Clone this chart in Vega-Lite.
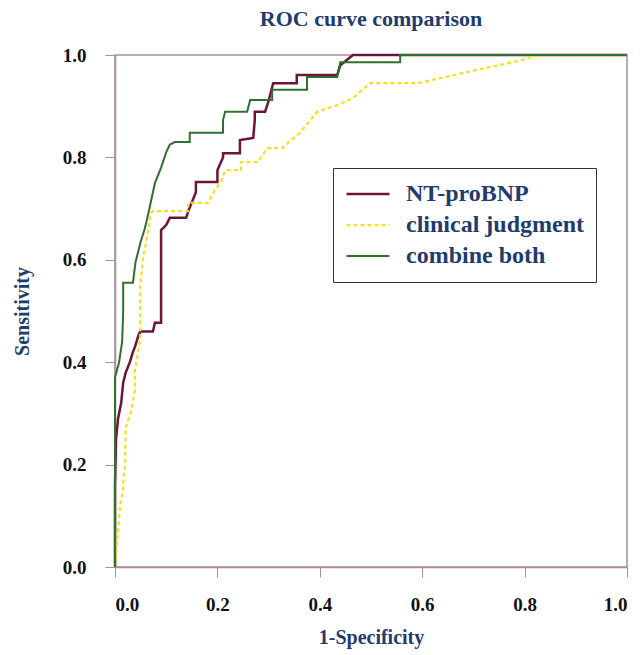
{
 "$schema": "https://vega.github.io/schema/vega-lite/v6.json",
 "width": 512,
 "height": 512,
 "autosize": {"type": "none"},
 "padding": {"left": 115, "top": 55, "right": 13, "bottom": 88},
 "background": "white",
 "title": {"text": "ROC curve comparison", "anchor": "middle", "frame": "group", "offset": 15, "font": "Liberation Serif", "fontSize": 22, "fontWeight": "bold", "color": "#1f3c6e"},
 "data": {"values": [
  {"series": "NT-proBNP", "i": 0, "fpr": 0, "tpr": 0},
  {"series": "NT-proBNP", "i": 1, "fpr": 0, "tpr": 0.16},
  {"series": "NT-proBNP", "i": 2, "fpr": 0.002, "tpr": 0.25},
  {"series": "NT-proBNP", "i": 3, "fpr": 0.006, "tpr": 0.29},
  {"series": "NT-proBNP", "i": 4, "fpr": 0.012, "tpr": 0.32},
  {"series": "NT-proBNP", "i": 5, "fpr": 0.016, "tpr": 0.36},
  {"series": "NT-proBNP", "i": 6, "fpr": 0.021, "tpr": 0.38},
  {"series": "NT-proBNP", "i": 7, "fpr": 0.029, "tpr": 0.40},
  {"series": "NT-proBNP", "i": 8, "fpr": 0.035, "tpr": 0.42},
  {"series": "NT-proBNP", "i": 9, "fpr": 0.039, "tpr": 0.43},
  {"series": "NT-proBNP", "i": 10, "fpr": 0.045, "tpr": 0.45},
  {"series": "NT-proBNP", "i": 11, "fpr": 0.049, "tpr": 0.46},
  {"series": "NT-proBNP", "i": 12, "fpr": 0.074, "tpr": 0.46},
  {"series": "NT-proBNP", "i": 13, "fpr": 0.078, "tpr": 0.477},
  {"series": "NT-proBNP", "i": 14, "fpr": 0.09, "tpr": 0.477},
  {"series": "NT-proBNP", "i": 15, "fpr": 0.09, "tpr": 0.658},
  {"series": "NT-proBNP", "i": 16, "fpr": 0.1, "tpr": 0.668},
  {"series": "NT-proBNP", "i": 17, "fpr": 0.107, "tpr": 0.682},
  {"series": "NT-proBNP", "i": 18, "fpr": 0.139, "tpr": 0.682},
  {"series": "NT-proBNP", "i": 19, "fpr": 0.145, "tpr": 0.70},
  {"series": "NT-proBNP", "i": 20, "fpr": 0.152, "tpr": 0.717},
  {"series": "NT-proBNP", "i": 21, "fpr": 0.158, "tpr": 0.732},
  {"series": "NT-proBNP", "i": 22, "fpr": 0.158, "tpr": 0.752},
  {"series": "NT-proBNP", "i": 23, "fpr": 0.2, "tpr": 0.752},
  {"series": "NT-proBNP", "i": 24, "fpr": 0.2, "tpr": 0.775},
  {"series": "NT-proBNP", "i": 25, "fpr": 0.211, "tpr": 0.8},
  {"series": "NT-proBNP", "i": 26, "fpr": 0.211, "tpr": 0.808},
  {"series": "NT-proBNP", "i": 27, "fpr": 0.244, "tpr": 0.808},
  {"series": "NT-proBNP", "i": 28, "fpr": 0.244, "tpr": 0.834},
  {"series": "NT-proBNP", "i": 29, "fpr": 0.27, "tpr": 0.838},
  {"series": "NT-proBNP", "i": 30, "fpr": 0.273, "tpr": 0.873},
  {"series": "NT-proBNP", "i": 31, "fpr": 0.273, "tpr": 0.889},
  {"series": "NT-proBNP", "i": 32, "fpr": 0.293, "tpr": 0.889},
  {"series": "NT-proBNP", "i": 33, "fpr": 0.3, "tpr": 0.91},
  {"series": "NT-proBNP", "i": 34, "fpr": 0.305, "tpr": 0.93},
  {"series": "NT-proBNP", "i": 35, "fpr": 0.309, "tpr": 0.945},
  {"series": "NT-proBNP", "i": 36, "fpr": 0.355, "tpr": 0.945},
  {"series": "NT-proBNP", "i": 37, "fpr": 0.355, "tpr": 0.961},
  {"series": "NT-proBNP", "i": 38, "fpr": 0.434, "tpr": 0.961},
  {"series": "NT-proBNP", "i": 39, "fpr": 0.44, "tpr": 0.98},
  {"series": "NT-proBNP", "i": 40, "fpr": 0.465, "tpr": 1.0},
  {"series": "NT-proBNP", "i": 41, "fpr": 1.0, "tpr": 1.0},
  {"series": "clinical judgment", "i": 0, "fpr": 0, "tpr": 0},
  {"series": "clinical judgment", "i": 1, "fpr": 0.002, "tpr": 0.02},
  {"series": "clinical judgment", "i": 2, "fpr": 0.01, "tpr": 0.121},
  {"series": "clinical judgment", "i": 3, "fpr": 0.016, "tpr": 0.15},
  {"series": "clinical judgment", "i": 4, "fpr": 0.016, "tpr": 0.164},
  {"series": "clinical judgment", "i": 5, "fpr": 0.02, "tpr": 0.205},
  {"series": "clinical judgment", "i": 6, "fpr": 0.02, "tpr": 0.232},
  {"series": "clinical judgment", "i": 7, "fpr": 0.021, "tpr": 0.273},
  {"series": "clinical judgment", "i": 8, "fpr": 0.031, "tpr": 0.303},
  {"series": "clinical judgment", "i": 9, "fpr": 0.039, "tpr": 0.346},
  {"series": "clinical judgment", "i": 10, "fpr": 0.039, "tpr": 0.385},
  {"series": "clinical judgment", "i": 11, "fpr": 0.045, "tpr": 0.418},
  {"series": "clinical judgment", "i": 12, "fpr": 0.049, "tpr": 0.443},
  {"series": "clinical judgment", "i": 13, "fpr": 0.049, "tpr": 0.498},
  {"series": "clinical judgment", "i": 14, "fpr": 0.049, "tpr": 0.547},
  {"series": "clinical judgment", "i": 15, "fpr": 0.055, "tpr": 0.605},
  {"series": "clinical judgment", "i": 16, "fpr": 0.064, "tpr": 0.652},
  {"series": "clinical judgment", "i": 17, "fpr": 0.07, "tpr": 0.691},
  {"series": "clinical judgment", "i": 18, "fpr": 0.074, "tpr": 0.695},
  {"series": "clinical judgment", "i": 19, "fpr": 0.143, "tpr": 0.695},
  {"series": "clinical judgment", "i": 20, "fpr": 0.143, "tpr": 0.711},
  {"series": "clinical judgment", "i": 21, "fpr": 0.182, "tpr": 0.711},
  {"series": "clinical judgment", "i": 22, "fpr": 0.188, "tpr": 0.723},
  {"series": "clinical judgment", "i": 23, "fpr": 0.195, "tpr": 0.736},
  {"series": "clinical judgment", "i": 24, "fpr": 0.207, "tpr": 0.752},
  {"series": "clinical judgment", "i": 25, "fpr": 0.215, "tpr": 0.775},
  {"series": "clinical judgment", "i": 26, "fpr": 0.246, "tpr": 0.775},
  {"series": "clinical judgment", "i": 27, "fpr": 0.246, "tpr": 0.791},
  {"series": "clinical judgment", "i": 28, "fpr": 0.279, "tpr": 0.791},
  {"series": "clinical judgment", "i": 29, "fpr": 0.297, "tpr": 0.818},
  {"series": "clinical judgment", "i": 30, "fpr": 0.326, "tpr": 0.818},
  {"series": "clinical judgment", "i": 31, "fpr": 0.361, "tpr": 0.848},
  {"series": "clinical judgment", "i": 32, "fpr": 0.395, "tpr": 0.889},
  {"series": "clinical judgment", "i": 33, "fpr": 0.434, "tpr": 0.902},
  {"series": "clinical judgment", "i": 34, "fpr": 0.465, "tpr": 0.916},
  {"series": "clinical judgment", "i": 35, "fpr": 0.498, "tpr": 0.945},
  {"series": "clinical judgment", "i": 36, "fpr": 0.592, "tpr": 0.945},
  {"series": "clinical judgment", "i": 37, "fpr": 0.645, "tpr": 0.957},
  {"series": "clinical judgment", "i": 38, "fpr": 0.707, "tpr": 0.971},
  {"series": "clinical judgment", "i": 39, "fpr": 0.777, "tpr": 0.986},
  {"series": "clinical judgment", "i": 40, "fpr": 0.83, "tpr": 1.0},
  {"series": "clinical judgment", "i": 41, "fpr": 1.0, "tpr": 1.0},
  {"series": "combine both", "i": 0, "fpr": 0, "tpr": 0},
  {"series": "combine both", "i": 1, "fpr": 0, "tpr": 0.37},
  {"series": "combine both", "i": 2, "fpr": 0.008, "tpr": 0.40},
  {"series": "combine both", "i": 3, "fpr": 0.014, "tpr": 0.44},
  {"series": "combine both", "i": 4, "fpr": 0.016, "tpr": 0.50},
  {"series": "combine both", "i": 5, "fpr": 0.016, "tpr": 0.555},
  {"series": "combine both", "i": 6, "fpr": 0.035, "tpr": 0.555},
  {"series": "combine both", "i": 7, "fpr": 0.04, "tpr": 0.595},
  {"series": "combine both", "i": 8, "fpr": 0.05, "tpr": 0.635},
  {"series": "combine both", "i": 9, "fpr": 0.058, "tpr": 0.66},
  {"series": "combine both", "i": 10, "fpr": 0.065, "tpr": 0.69},
  {"series": "combine both", "i": 11, "fpr": 0.078, "tpr": 0.75},
  {"series": "combine both", "i": 12, "fpr": 0.09, "tpr": 0.78},
  {"series": "combine both", "i": 13, "fpr": 0.1, "tpr": 0.81},
  {"series": "combine both", "i": 14, "fpr": 0.107, "tpr": 0.825},
  {"series": "combine both", "i": 15, "fpr": 0.117, "tpr": 0.83},
  {"series": "combine both", "i": 16, "fpr": 0.146, "tpr": 0.83},
  {"series": "combine both", "i": 17, "fpr": 0.146, "tpr": 0.848},
  {"series": "combine both", "i": 18, "fpr": 0.211, "tpr": 0.848},
  {"series": "combine both", "i": 19, "fpr": 0.211, "tpr": 0.873},
  {"series": "combine both", "i": 20, "fpr": 0.215, "tpr": 0.889},
  {"series": "combine both", "i": 21, "fpr": 0.258, "tpr": 0.889},
  {"series": "combine both", "i": 22, "fpr": 0.264, "tpr": 0.912},
  {"series": "combine both", "i": 23, "fpr": 0.307, "tpr": 0.912},
  {"series": "combine both", "i": 24, "fpr": 0.307, "tpr": 0.932},
  {"series": "combine both", "i": 25, "fpr": 0.375, "tpr": 0.932},
  {"series": "combine both", "i": 26, "fpr": 0.375, "tpr": 0.957},
  {"series": "combine both", "i": 27, "fpr": 0.434, "tpr": 0.957},
  {"series": "combine both", "i": 28, "fpr": 0.44, "tpr": 0.986},
  {"series": "combine both", "i": 29, "fpr": 0.557, "tpr": 0.986},
  {"series": "combine both", "i": 30, "fpr": 0.557, "tpr": 1.0},
  {"series": "combine both", "i": 31, "fpr": 1.0, "tpr": 1.0}
 ]},
 "mark": {"type": "line", "strokeCap": "butt"},
 "encoding": {
  "x": {"field": "fpr", "type": "quantitative", "scale": {"domain": [0, 1], "nice": false},
   "axis": {"title": "1-Specificity", "values": [0, 0.2, 0.4, 0.6, 0.8, 1.0], "format": ".1f", "grid": false,
    "titleFont": "Liberation Serif", "titleFontSize": 20, "titleFontWeight": "bold", "titleColor": "#1f3c6e", "titlePadding": 13,
    "labelFont": "Liberation Serif", "labelFontSize": 19, "labelFontWeight": "bold", "labelColor": "#111111", "labelPadding": 18,
    "tickSize": 10, "tickColor": "#a88e9c", "domainColor": "#a88e9c", "domainWidth": 1.5}},
  "y": {"field": "tpr", "type": "quantitative", "scale": {"domain": [0, 1], "nice": false},
   "axis": {"title": "Sensitivity", "values": [0, 0.2, 0.4, 0.6, 0.8, 1.0], "format": ".1f", "grid": false,
    "titleFont": "Liberation Serif", "titleFontSize": 20, "titleFontWeight": "bold", "titleColor": "#1f3c6e", "titlePadding": 30,
    "labelFont": "Liberation Serif", "labelFontSize": 19, "labelFontWeight": "bold", "labelColor": "#111111", "labelPadding": 19,
    "tickSize": 10, "tickColor": "#a88e9c", "domainColor": "#a88e9c", "domainWidth": 1.5}},
  "order": {"field": "i", "type": "quantitative"},
  "color": {"field": "series", "type": "nominal",
   "scale": {"domain": ["NT-proBNP", "clinical judgment", "combine both"], "range": ["#6e1438", "#f2e21c", "#2f6f2f"]},
   "legend": {"title": null, "orient": "none", "legendX": 218, "legendY": 113, "strokeColor": "#333333", "padding": 12,
    "symbolType": "stroke", "symbolSize": 1850, "symbolStrokeWidth": 3, "labelFont": "Liberation Serif", "labelFontSize": 24,
    "labelFontWeight": "bold", "labelColor": "#1f3c6e", "labelOffset": 15, "rowPadding": 3, "clipHeight": 28, "labelLimit": 400}},
  "strokeDash": {"field": "series", "type": "nominal",
   "scale": {"domain": ["NT-proBNP", "clinical judgment", "combine both"], "range": [[1, 0], [4, 3], [1, 0]]},
   "legend": {"title": null, "orient": "none", "legendX": 218, "legendY": 113, "strokeColor": "#333333", "padding": 12,
    "symbolType": "stroke", "symbolSize": 1850, "symbolStrokeWidth": 3, "labelFont": "Liberation Serif", "labelFontSize": 24,
    "labelFontWeight": "bold", "labelColor": "#1f3c6e", "labelOffset": 15, "rowPadding": 3, "clipHeight": 28, "labelLimit": 400}},
  "strokeWidth": {"field": "series", "type": "nominal",
   "scale": {"domain": ["NT-proBNP", "clinical judgment", "combine both"], "range": [2.5, 2, 2.5]}, "legend": null}
 },
 "config": {"view": {"stroke": "#a88e9c", "strokeWidth": 1.5}}
}
